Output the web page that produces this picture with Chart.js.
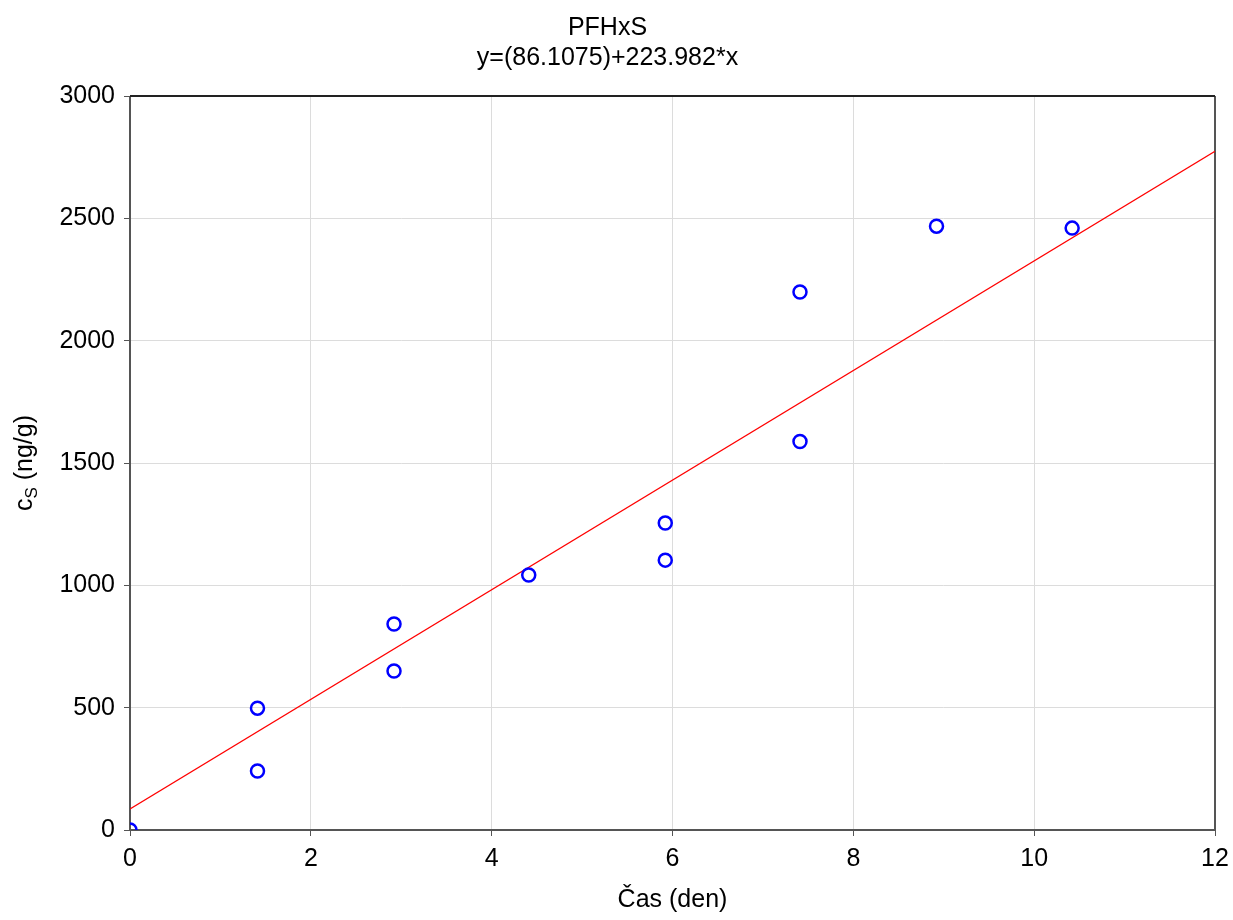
<!DOCTYPE html>
<html lang="cs">
<head>
    <meta charset="UTF-8">
    <title>PFHxS</title>
    <script src="https://cdn.jsdelivr.net/npm/chart.js"></script>
    <style>
        * { margin: 0; padding: 0; box-sizing: border-box; }
        body { background: #fff; }
        .wrap { width: 1233px; height: 920px; }
    </style>
</head>
<body>
<div class="wrap"><canvas id="chart" width="1233" height="920"></canvas></div>

<script>
    // measured points: time (days) vs concentration (ng/g)
    const days = [0, 1.41, 1.41, 2.92, 2.92, 4.41, 5.92, 5.92, 7.41, 7.41, 8.92, 10.42];
    const conc = [0, 498, 241, 842, 650, 1042, 1255, 1103, 1588, 2199, 2468, 2460];

    // regression line from the subtitle
    const intercept = 86.1075;
    const slope = 223.982;
    const fitX = [0, 12];

    const xTicks = [0, 2, 4, 6, 8, 10, 12];
    const yTicks = [0, 500, 1000, 1500, 2000, 2500, 3000];

    const FONT = 'Liberation Sans, Arial, sans-serif';
    const SIZE = 25;
    const AXIS = '#555555';

    // frame around the plot area
    const frame = {
        id: 'frame',
        beforeDatasetsDraw(chart) {
            const { ctx, chartArea: a } = chart;
            ctx.save();
            ctx.strokeStyle = AXIS;
            ctx.lineWidth = 2;
            ctx.beginPath();
            ctx.moveTo(a.left, a.top);
            ctx.lineTo(a.left, a.bottom);
            ctx.lineTo(a.right, a.bottom);
            ctx.lineTo(a.right, a.top);
            ctx.stroke();
            ctx.strokeStyle = '#222';
            ctx.beginPath();
            ctx.moveTo(a.left, a.top);
            ctx.lineTo(a.right, a.top);
            ctx.stroke();
            ctx.restore();
        }
    };

    // y axis title with subscript: c_S (ng/g)
    const yTitle = {
        id: 'yTitle',
        afterDraw(chart) {
            const { ctx, chartArea: a } = chart;
            const big = SIZE + 'px ' + FONT, small = '17px ' + FONT;
            ctx.save();
            ctx.fillStyle = '#000';
            ctx.textBaseline = 'alphabetic';
            ctx.font = big;
            const wc = ctx.measureText('c').width;
            const wr = ctx.measureText(' (ng/g)').width;
            ctx.font = small;
            const ws = ctx.measureText('S').width;
            const total = wc + ws + wr;
            ctx.translate(32, (a.top + a.bottom) / 2);
            ctx.rotate(-Math.PI / 2);
            let x = -total / 2;
            ctx.font = big;
            ctx.fillText('c', x, 0);
            x += wc;
            ctx.font = small;
            ctx.fillText('S', x, 5);
            x += ws;
            ctx.font = big;
            ctx.fillText(' (ng/g)', x, 0);
            ctx.restore();
        }
    };

    new Chart(document.getElementById('chart'), {
        type: 'scatter',
        data: {
            datasets: [
                {
                    type: 'line',
                    data: fitX.map(x => ({ x: x, y: intercept + slope * x })),
                    borderColor: '#ff0000',
                    borderWidth: 1.3,
                    pointRadius: 0,
                    fill: false,
                    order: 2
                },
                {
                    data: days.map((d, i) => ({ x: d, y: conc[i] })),
                    pointStyle: 'circle',
                    pointRadius: 6.5,
                    pointBorderWidth: 2.5,
                    pointBorderColor: '#0000ff',
                    pointBackgroundColor: 'rgba(0,0,0,0)',
                    order: 1
                }
            ]
        },
        options: {
            responsive: false,
            animation: false,
            layout: { padding: { top: 0, right: 18, bottom: 0, left: 0 } },
            plugins: {
                legend: { display: false },
                tooltip: { enabled: false },
                title: {
                    display: true,
                    text: 'PFHxS',
                    color: '#000',
                    font: { family: FONT, size: SIZE, weight: 'normal' },
                    padding: { top: 13, bottom: 0 }
                },
                subtitle: {
                    display: true,
                    text: 'y=(86.1075)+223.982*x',
                    color: '#000',
                    font: { family: FONT, size: SIZE, weight: 'normal' },
                    padding: { top: 0, bottom: 23 }
                }
            },
            scales: {
                x: {
                    type: 'linear',
                    min: 0,
                    max: 12,
                    afterBuildTicks: s => { s.ticks = xTicks.map(v => ({ value: v })); },
                    afterFit: s => { s.height = 90; s.paddingLeft = 0; s.paddingRight = 0; },
                    grid: { color: '#dcdcdc', lineWidth: 1, tickColor: AXIS, tickLength: 6 },
                    border: { display: false },
                    ticks: {
                        color: '#000',
                        padding: 8,
                        font: { family: FONT, size: SIZE },
                        callback: v => String(v)
                    },
                    title: {
                        display: true,
                        text: 'Čas (den)',
                        color: '#000',
                        font: { family: FONT, size: SIZE },
                        padding: { top: 0, bottom: 5 }
                    }
                },
                y: {
                    type: 'linear',
                    min: 0,
                    max: 3000,
                    afterBuildTicks: s => { s.ticks = yTicks.map(v => ({ value: v })); },
                    afterFit: s => { s.width = 130; },
                    grid: { color: '#dcdcdc', lineWidth: 1, tickColor: AXIS, tickLength: 6 },
                    border: { display: false },
                    ticks: {
                        color: '#000',
                        padding: 9,
                        font: { family: FONT, size: SIZE },
                        callback: v => String(v)
                    }
                }
            }
        },
        plugins: [frame, yTitle]
    });
</script>
</body>
</html>
